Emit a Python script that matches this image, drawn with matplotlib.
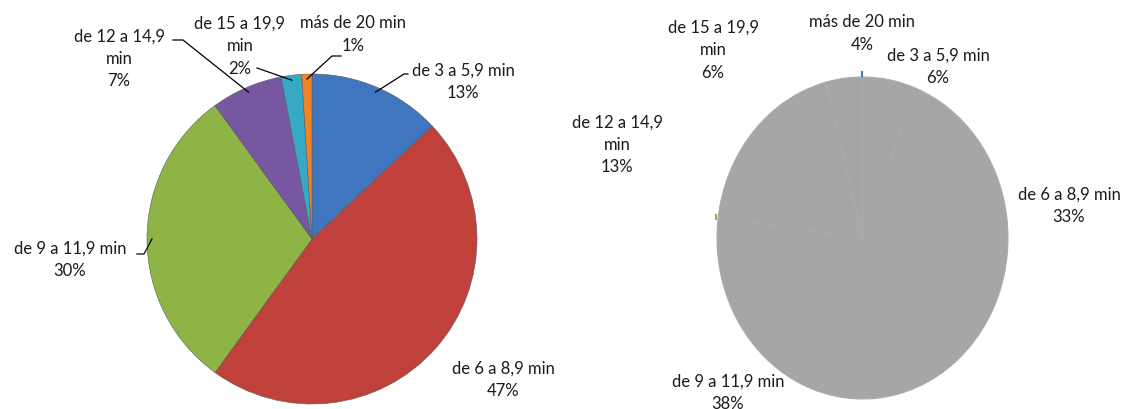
import matplotlib.pyplot as plt
from matplotlib.lines import Line2D
import numpy as np

# === DATA ===
categories = ["de 3 a 5,9 min", "de 6 a 8,9 min", "de 9 a 11,9 min",
              "de 12 a 14,9 min", "de 15 a 19,9 min", "más de 20 min"]
share_left = [13, 47, 30, 7, 2, 1]
share_right = [6, 33, 38, 13, 6, 4]

# label text as it is wrapped in the picture
label_text = ["de 3 a 5,9 min", "de 6 a 8,9 min", "de 9 a 11,9 min",
              "de 12 a 14,9\nmin", "de 15 a 19,9\nmin", "más de 20 min"]

colors_left = ["#3F76BF", "#C0403C", "#8DB444", "#7757A1", "#37A9C7", "#EF8428"]
grey = "#A6A6A6"

W, H = 1126, 410
plt.rcParams["font.family"] = ["Lato", "DejaVu Sans"]
fig = plt.figure(figsize=(W / 100, H / 100), dpi=100)


def box(x0, y0, x1, y1):
    # pixel box (top-left origin) -> figure fraction rect
    return [x0 / W, (H - y1) / H, (x1 - x0) / W, (y1 - y0) / H]


def fpos(x, y):
    return x / W, (H - y) / H


def put_label(px, py, text):
    fig.text(*fpos(px, py), text, ha="center", va="center", fontsize=12,
             linespacing=1.5, color="#1a1a1a")


# === LEFT PIE ===
axl = fig.add_axes(box(147, 75, 477, 405))
wl, _ = axl.pie(share_left, colors=colors_left, startangle=90, counterclock=False,
                wedgeprops=dict(edgecolor="#5a5a5a", linewidth=0.4))
axl.set_xlim(-1, 1)
axl.set_ylim(-1, 1)
axl.set_aspect("auto")

# label block centres (pixels) and leader elbows
pos_left = [(463, 81.5), (503, 380), (70, 260), (119, 59), (240, 46), (353, 34.5)]
elbows_left = [[(408, 75), (404, 75)], None, [(137, 255), (144, 255)],
               [(173, 41), (183, 41)], [(257, 69)], [(341, 57), (332, 57)]]

for i, (w, (px, py)) in enumerate(zip(wl, pos_left)):
    put_label(px, py, f"{label_text[i]}\n{share_left[i]}%")
    if elbows_left[i] is None:
        continue
    ang = np.deg2rad((w.theta1 + w.theta2) / 2)
    r = 0.97
    dx, dy = axl.transData.transform((r * np.cos(ang), r * np.sin(ang)))
    pts = [fpos(x, y) for x, y in elbows_left[i]] + [fig.transFigure.inverted().transform((dx, dy))]
    xs = [p[0] for p in pts]
    ys = [p[1] for p in pts]
    fig.add_artist(Line2D(xs, ys, transform=fig.transFigure, color="black", lw=0.9))

# === RIGHT PIE (grey) ===
axr = fig.add_axes(box(717, 78, 1008, 400))
wr, _ = axr.pie(share_right, colors=[grey] * len(share_right), startangle=90,
                counterclock=False, wedgeprops=dict(edgecolor="#ABABAB", linewidth=0.8))
axr.set_xlim(-1, 1)
axr.set_ylim(-1, 1)
axr.set_aspect("auto")

pos_right = [(938, 66.5), (1069, 205.5), (728, 392.5), (617, 145), (713, 50), (862, 33.5)]
for i, (px, py) in enumerate(pos_right):
    put_label(px, py, f"{label_text[i]}\n{share_right[i]}%")

# tiny leftover leader marks
fig.add_artist(Line2D([862 / W, 862 / W], [(H - 73) / H, (H - 77) / H],
                      transform=fig.transFigure, color="#3F76BF", lw=1.5))
fig.add_artist(Line2D([716 / W, 716 / W], [(H - 216) / H, (H - 220) / H],
                      transform=fig.transFigure, color="#8DB444", lw=1.5))

plt.savefig("out.png", dpi=100)
